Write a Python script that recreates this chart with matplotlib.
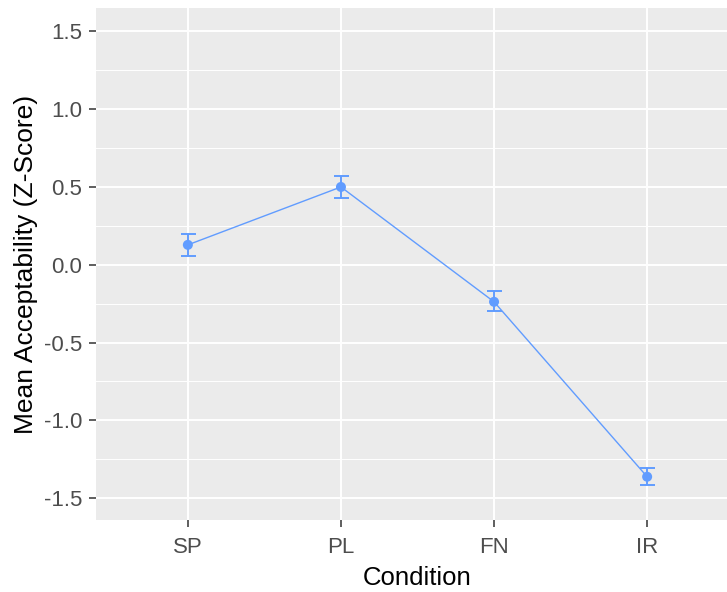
import matplotlib
matplotlib.use("Agg")
import matplotlib.pyplot as plt
import numpy as np

plt.rcParams['font.family'] = ['Liberation Sans', 'DejaVu Sans']
plt.rcParams['axes.unicode_minus'] = False

conditions = ["SP", "PL", "FN", "IR"]
means = [0.128, 0.500, -0.238, -1.362]
upper = [0.197, 0.572, -0.170, -1.303]
lower = [0.056, 0.431, -0.300, -1.418]

col = "#619CFF"

fig = plt.figure(figsize=(7.27, 5.92), dpi=100)
W, H = 727, 592
ax = fig.add_axes([96 / W, (H - 520) / H, (739 - 96) / W, (520 - 8) / H])
ax.set_facecolor("#EBEBEB")

x = np.arange(1, len(conditions) + 1)
m = np.array(means)
yerr = [m - np.array(lower), np.array(upper) - m]

ax.plot(x, m, color=col, lw=1.0, zorder=3)
ax.errorbar(x, m, yerr=yerr, fmt="none", ecolor=col, elinewidth=1.4,
            capsize=5.4, capthick=1.4, zorder=3)
ax.scatter(x, m, s=52, color=col, zorder=4, edgecolors="none")

ax.set_xlim(0.4, 4.6)
ax.set_ylim(-1.64, 1.65)
ax.set_xticks(x)
ax.set_xticklabels(conditions)
ax.set_yticks([-1.5, -1.0, -0.5, 0.0, 0.5, 1.0, 1.5])
ax.set_yticks(np.arange(-1.25, 1.5, 0.5), minor=True)

ax.grid(which="major", color="white", lw=1.4)
ax.grid(which="minor", axis="y", color="white", lw=0.7)
ax.set_axisbelow(True)
for s in ax.spines.values():
    s.set_visible(False)

ax.tick_params(which="major", length=5, width=1.1, color="#333333",
               labelcolor="#4D4D4D", labelsize=16, pad=5)
ax.tick_params(axis="x", pad=7)
ax.tick_params(which="minor", length=0)

ax.set_xlabel("Condition", fontsize=18.5, color="black", labelpad=6)
ax.set_ylabel("Mean Acceptability (Z-Score)", fontsize=19, color="black", labelpad=4)

fig.savefig("out.png", dpi=100)
